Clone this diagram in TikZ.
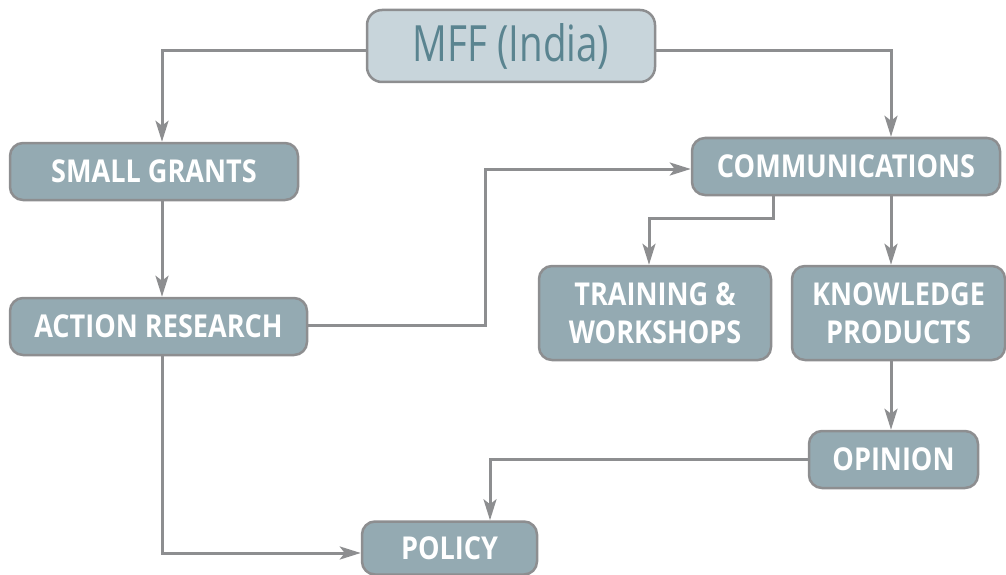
\documentclass[tikz,border=0pt]{standalone}
\usepackage{fontspec}
\setmainfont{Open Sans}
\newfontfamily\boxfont{Open Sans}[FakeStretch=0.86]
\newfontfamily\topfont{Open Sans}[FakeStretch=0.77]
\usetikzlibrary{arrows.meta}
\definecolor{edgegray}{HTML}{8D8E90}
\definecolor{boxfill}{HTML}{94AAB2}
\definecolor{topfill}{HTML}{C8D5DB}
\definecolor{toptext}{HTML}{5A8490}
\tikzset{
  box/.style={draw=edgegray, line width=2.5pt, fill=boxfill, rounded corners=13pt,
    text=white, font=\boxfont\bfseries\fontsize{31.5}{38}\selectfont, align=center, inner sep=0pt},
  topbox/.style={box, fill=topfill, text=toptext, rounded corners=15pt,
    font=\topfont\fontsize{50}{56}\selectfont},
  link/.style={draw=edgegray, line width=3pt, -{Stealth[length=21pt,width=13pt,inset=5pt]}},
}
\begin{document}
\begin{tikzpicture}[x=1pt, y=-1pt]
  \useasboundingbox (0,0) rectangle (1006,575);
  \node[topbox, minimum width=288pt, minimum height=72pt] (mff) at (511,46) {MFF (India)};
  \node[box, minimum width=288pt, minimum height=57pt] (sg) at (154,171.5) {SMALL GRANTS};
  \node[box, minimum width=297pt, minimum height=57pt] (ar) at (158.5,326.5) {ACTION RESEARCH};
  \node[box, minimum width=308pt, minimum height=57pt] (comm) at (846,166.5) {COMMUNICATIONS};
  \node[box, minimum width=232pt, minimum height=94pt] (train) at (655,313) {TRAINING \&\\WORKSHOPS};
  \node[box, minimum width=213pt, minimum height=94pt] (know) at (898.5,313) {KNOWLEDGE\\PRODUCTS};
  \node[box, minimum width=169pt, minimum height=57pt] (opin) at (893.5,459.5) {OPINION};
  \node[box, minimum width=175pt, minimum height=53pt] (pol) at (449.5,548) {POLICY};

  \draw[link] ([yshift=-5pt]mff.west) -| ([xshift=8pt]sg.north);
  \draw[link] ([yshift=-5pt]mff.east) -| ([xshift=45pt]comm.north);
  \draw[link] ([xshift=8pt]sg.south) -- ([xshift=3.5pt]ar.north);
  \draw[link] ([yshift=1.5pt]ar.east) -- ++(177,0) |- ([yshift=-2.5pt]comm.west);
  \draw[link] ([xshift=-73pt]comm.south) -- ++(0,22) -| ([xshift=-6pt]train.north);
  \draw[link] ([xshift=45pt]comm.south) -- ([xshift=-7.5pt]know.north);
  \draw[link] ([xshift=-7.5pt]know.south) -- ([xshift=-2.5pt]opin.north);
  \draw[link] (opin.west) -| ([xshift=40.5pt]pol.north);
  \draw[link] ([xshift=3.5pt]ar.south) |- ([yshift=-5pt]pol.west);
\end{tikzpicture}
\end{document}
